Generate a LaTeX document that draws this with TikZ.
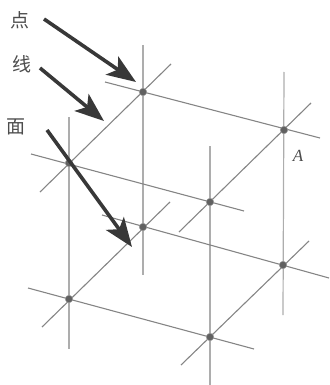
\documentclass[tikz,border=0pt]{standalone}
\usepackage{fontspec}
\newfontfamily\cjk{Noto Sans CJK SC}
\newfontfamily\serifA{Liberation Serif}
\usepackage{tikz}
\usetikzlibrary{arrows.meta}
\tikzset{
  vline/.style={draw=black!32,line width=1.2pt},
  gline/.style={draw=black!48,line width=1.1pt},
  dot/.style={circle,fill=black!62,draw=black!40,line width=0.5pt,inner sep=0pt,minimum size=7.5pt},
  bigarrow/.style={draw=black!78,line width=3.6pt,-{Stealth[length=29pt,width=22pt,inset=7pt]}},
  lab/.style={font=\cjk\fontsize{19}{19}\selectfont,text=black!70,inner sep=0pt},
}
\begin{document}
\begin{tikzpicture}[x=1pt,y=-1pt]
\useasboundingbox (0,0) rectangle (329,385);
% points of the lattice
\coordinate (P1) at (143,92);
\coordinate (P2) at (284,130);
\coordinate (P3) at (69,163);
\coordinate (P4) at (210,202);
\coordinate (P5) at (143,227);
\coordinate (P6) at (283,265);
\coordinate (P7) at (69,299);
\coordinate (P8) at (210,337);
% free ends
\coordinate (v1a) at (143,45); \coordinate (v1b) at (143,275);
\coordinate (v2a) at (284,72); \coordinate (v2b) at (283,315);
\coordinate (v3a) at (69,117); \coordinate (v3b) at (69,349);
\coordinate (v4a) at (210,146); \coordinate (v4b) at (210,385);
\coordinate (d1a) at (171,64); \coordinate (d1b) at (40,192);
\coordinate (d2a) at (311,103); \coordinate (d2b) at (179,232);
\coordinate (d3a) at (170,202); \coordinate (d3b) at (42,327);
\coordinate (d4a) at (309,241); \coordinate (d4b) at (181,365);
\coordinate (w1a) at (105,82); \coordinate (w1b) at (320,138);
\coordinate (w2a) at (31,154); \coordinate (w2b) at (244,211);
\coordinate (w3a) at (102,215); \coordinate (w3b) at (329,278);
\coordinate (w4a) at (28,288); \coordinate (w4b) at (254,349);
% vertical lines
\draw[vline] (v1a) -- (v1b);
\draw[vline] (v2a) -- (v2b);
\draw[vline] (v3a) -- (v3b);
\draw[vline] (v4a) -- (v4b);
% depth lines
\draw[gline] (d1a) -- (d1b);
\draw[gline] (d2a) -- (d2b);
\draw[gline] (d3a) -- (d3b);
\draw[gline] (d4a) -- (d4b);
% width lines
\draw[gline] (w1a) -- (w1b);
\draw[gline] (w2a) -- (w2b);
\draw[gline] (w3a) -- (w3b);
\draw[gline] (w4a) -- (w4b);
% dots
\foreach \p in {P1,P2,P3,P4,P5,P6,P7,P8}
  \node[dot] (n\p) at (\p) {};
% labels
\node[lab] (ldian) at (20,20) {点};
\node[lab] (lxian) at (22,64) {线};
\node[lab] (lmian) at (16,127) {面};
\node[inner sep=0pt,font=\serifA\itshape\fontsize{17}{17}\selectfont,text=black!70] (lA) at (298,156) {A};
% arrows
\coordinate (a1s) at (44,19); \coordinate (a1e) at (136,82);
\coordinate (a2s) at (40,68); \coordinate (a2e) at (104,121);
\coordinate (a3s) at (47,130); \coordinate (a3e) at (132,247);
\draw[bigarrow] (a1s) -- (a1e);
\draw[bigarrow] (a2s) -- (a2e);
\draw[bigarrow] (a3s) -- (a3e);
\end{tikzpicture}
\end{document}
